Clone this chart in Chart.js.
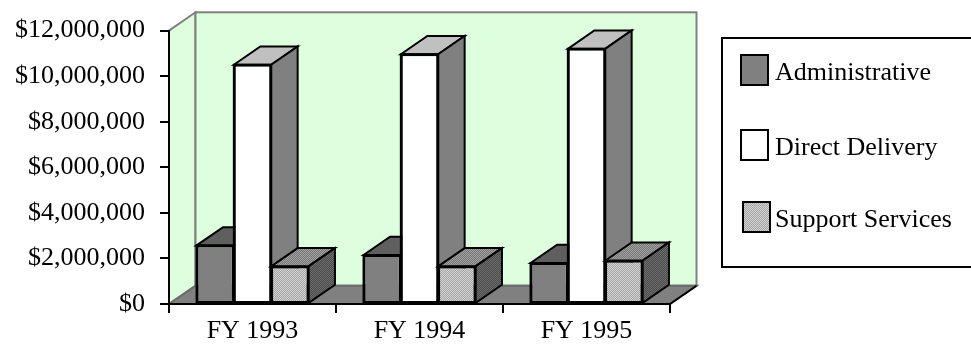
<!DOCTYPE html>
<html>
<head>
<meta charset="utf-8">
<script src="https://cdn.jsdelivr.net/npm/chart.js@4"></script>
<style>
  html, body { margin: 0; padding: 0; background: #fff; }
  #wrap { width: 971px; height: 352px; }
</style>
</head>
<body>
<div id="wrap"><canvas id="budgetChart" width="971" height="352"></canvas></div>
<script>
// ===== Data =====
const years = ["FY 1993", "FY 1994", "FY 1995"];
const seriesNames = ["Administrative", "Direct Delivery", "Support Services"];
const administrative = [2570000, 2150000, 1800000];
const directDelivery = [10500000, 10960000, 11200000];
const supportServices = [1650000, 1650000, 1900000];
const valueTicks = [0, 2000000, 4000000, 6000000, 8000000, 10000000, 12000000];

// ===== Look =====
const FONT = { family: "'Liberation Serif', 'Times New Roman', serif", size: 26 };
const DEPTH_X = 26.5;
const DEPTH_Y = -18.3;
const WALL = "#ddffdd";
const WALL_EDGE = "#808080";
const FLOOR = "#808080";

// tiny checker tile for the stippled fill
function stipple(light, dark) {
  const c = document.createElement("canvas");
  c.width = 2; c.height = 2;
  const g = c.getContext("2d");
  g.fillStyle = light; g.fillRect(0, 0, 2, 2);
  g.fillStyle = dark; g.fillRect(1, 0, 1, 1); g.fillRect(0, 1, 1, 1);
  return g.createPattern(c, "repeat");
}

// front / top / side face colours per series
const faces = [
  { front: "#808080", top: "#5f5f5f", side: "#474747" },
  { front: "#ffffff", top: "#c0c0c0", side: "#808080" },
  { front: stipple("#d6d6d6", "#a2a2a2"), top: stipple("#a2a2a2", "#767676"), side: stipple("#6e6e6e", "#4a4a4a") }
];

function extrude(ctx, bar, f) {
  const { x, y, width, base } = bar.getProps(["x", "y", "width", "base"], true);
  const l = x - width / 2, r = x + width / 2;
  // top face
  ctx.beginPath();
  ctx.moveTo(l, y); ctx.lineTo(l + DEPTH_X, y + DEPTH_Y);
  ctx.lineTo(r + DEPTH_X, y + DEPTH_Y); ctx.lineTo(r, y); ctx.closePath();
  ctx.fillStyle = f.top; ctx.fill(); ctx.stroke();
  // right side face
  ctx.beginPath();
  ctx.moveTo(r, y); ctx.lineTo(r + DEPTH_X, y + DEPTH_Y);
  ctx.lineTo(r + DEPTH_X, base + DEPTH_Y); ctx.lineTo(r, base); ctx.closePath();
  ctx.fillStyle = f.side; ctx.fill(); ctx.stroke();
  ctx.strokeRect(l, y, width, base - y);
}

// ===== 3D walls, floor and bars =====
const threeD = {
  id: "threeD",
  beforeDraw(chart) {
    const { ctx, chartArea: a } = chart;
    const L = a.left, R = a.right, T = a.top, B = a.bottom;
    ctx.save();
    ctx.lineWidth = 2;
    ctx.lineJoin = "miter";
    // side wall
    ctx.beginPath();
    ctx.moveTo(L, T); ctx.lineTo(L + DEPTH_X, T + DEPTH_Y);
    ctx.lineTo(L + DEPTH_X, B + DEPTH_Y); ctx.lineTo(L, B); ctx.closePath();
    ctx.fillStyle = WALL; ctx.fill();
    ctx.strokeStyle = WALL_EDGE; ctx.stroke();
    // back wall
    ctx.fillStyle = WALL;
    ctx.fillRect(L + DEPTH_X, T + DEPTH_Y, R - L, B - T);
    ctx.strokeRect(L + DEPTH_X, T + DEPTH_Y, R - L, B - T);
    // floor
    ctx.beginPath();
    ctx.moveTo(L, B); ctx.lineTo(R, B);
    ctx.lineTo(R + DEPTH_X, B + DEPTH_Y); ctx.lineTo(L + DEPTH_X, B + DEPTH_Y); ctx.closePath();
    ctx.fillStyle = FLOOR; ctx.fill();
    ctx.strokeStyle = "#6a6a6a"; ctx.stroke();
    ctx.beginPath();
    ctx.moveTo(R, B); ctx.lineTo(R + DEPTH_X, B + DEPTH_Y);
    ctx.strokeStyle = "#000"; ctx.stroke();
    ctx.restore();
  },
  // chart.js paints datasets last-to-first; paint them left-to-right instead
  beforeDatasetDraw() {
    return false;
  },
  afterDatasetsDraw(chart) {
    const { ctx } = chart;
    chart.data.datasets.forEach((ds, i) => {
      const meta = chart.getDatasetMeta(i);
      meta.controller.draw();
      ctx.save();
      ctx.lineWidth = 2;
      ctx.lineJoin = "miter";
      ctx.strokeStyle = "#000";
      meta.data.forEach(bar => extrude(ctx, bar, faces[i]));
      ctx.restore();
    });
  },
  afterDraw(chart) {
    // boxed legend on the right
    const { ctx } = chart;
    const boxX = 722, boxY = 38, boxW = 262, boxH = 229;
    const rows = [70, 145, 217];
    ctx.save();
    ctx.lineWidth = 2;
    ctx.strokeStyle = "#000";
    ctx.strokeRect(boxX, boxY, boxW, boxH);
    ctx.font = `${FONT.size}px ${FONT.family}`;
    ctx.textBaseline = "middle";
    ctx.textAlign = "left";
    chart.data.datasets.forEach((ds, i) => {
      const sx = i === 2 ? 743 : 741;
      ctx.fillStyle = faces[i].front;
      ctx.fillRect(sx, rows[i] - 15, 27, 30);
      ctx.strokeRect(sx, rows[i] - 15, 27, 30);
      ctx.fillStyle = "#000";
      ctx.fillText(ds.label, 775, rows[i] + 3);
    });
    ctx.restore();
  }
};

// ===== Chart =====
const seriesValues = [administrative, directDelivery, supportServices];
const datasets = seriesNames.map((name, i) => ({
  label: name,
  data: seriesValues[i],
  backgroundColor: faces[i].front,
  borderColor: "#000",
  borderWidth: 2,
  borderSkipped: false,
  categoryPercentage: 0.67,
  barPercentage: 1
}));

new Chart(document.getElementById("budgetChart"), {
  type: "bar",
  data: { labels: years, datasets },
  options: {
    responsive: false,
    animation: false,
    layout: { padding: { left: 0, top: 24, right: 301, bottom: 0 } },
    plugins: { legend: { display: false }, tooltip: { enabled: false } },
    scales: {
      x: {
        grid: { drawOnChartArea: false, offset: true, tickLength: 9, color: "#000", lineWidth: 2 },
        border: { color: "#000", width: 2 },
        ticks: { color: "#000", font: FONT, padding: 3, maxRotation: 0 },
        afterFit: s => { s.height = 48; }
      },
      y: {
        min: 0,
        max: 12000000,
        afterBuildTicks: s => { s.ticks = valueTicks.map(v => ({ value: v })); },
        grid: { drawOnChartArea: false, tickLength: 9, color: "#000", lineWidth: 2 },
        border: { color: "#000", width: 2 },
        ticks: {
          color: "#000",
          font: FONT,
          padding: 15,
          callback: v => "$" + Number(v).toLocaleString("en-US")
        },
        afterFit: s => { s.width = 169; }
      }
    }
  },
  plugins: [threeD]
});
</script>
</body>
</html>
